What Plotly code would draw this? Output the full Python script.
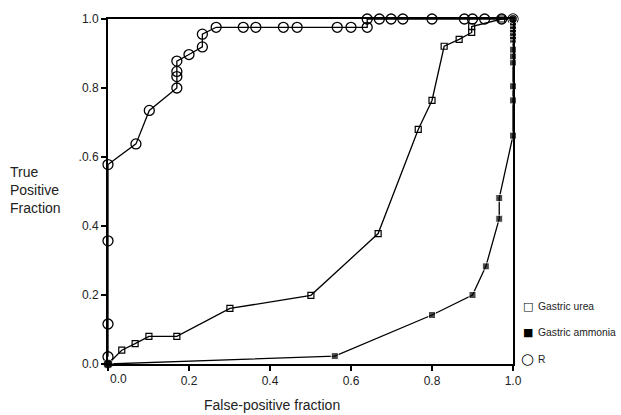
import plotly.graph_objects as go

# R (open circles)
r_x = [0.0, 0.0, 0.0, 0.0, 0.069, 0.102, 0.17, 0.17, 0.17, 0.17, 0.20, 0.233, 0.233,
       0.267, 0.334, 0.365, 0.433, 0.467, 0.566, 0.60, 0.64, 0.64, 0.67, 0.699, 0.728,
       0.80, 0.88, 0.90, 0.93, 0.972, 1.0]
r_y = [0.021, 0.116, 0.357, 0.578, 0.638, 0.735, 0.80, 0.833, 0.848, 0.878, 0.897, 0.919, 0.956,
       0.976, 0.976, 0.976, 0.976, 0.976, 0.976, 0.976, 0.976, 1.0, 1.0, 1.0, 1.0,
       1.0, 1.0, 1.0, 1.0, 1.0, 1.0]

# Gastric urea (open squares)
urea_x = [0.0, 0.034, 0.067, 0.101, 0.17, 0.301, 0.501, 0.667, 0.766, 0.80, 0.83, 0.867,
          0.898, 0.898, 0.972, 1.0]
urea_y = [0.0, 0.04, 0.059, 0.08, 0.08, 0.161, 0.199, 0.378, 0.68, 0.764, 0.921, 0.941,
          0.961, 0.978, 1.0, 1.0]

# Gastric ammonia (filled squares)
amm_x = [0.0, 0.56, 0.80, 0.90, 0.933, 0.966, 0.966, 1.0, 1.0, 1.0, 1.0, 1.0, 1.0,
         1.0, 1.0, 1.0, 1.0, 1.0, 1.0, 1.0]
amm_y = [0.0, 0.023, 0.142, 0.20, 0.283, 0.421, 0.481, 0.662, 0.764, 0.805, 0.874, 0.892,
         0.911, 0.94, 0.95, 0.96, 0.97, 0.98, 0.99, 1.0]

y_ticks = [0.0, 0.2, 0.4, 0.6, 0.8, 1.0]
y_ticktext = ["0.0", "0.2", "0.4", ".0.6", "0.8", "1.0"]
x_ticks = [0.0, 0.2, 0.4, 0.6, 0.8, 1.0]
x_ticktext = ["", "0.2", "0.4", "0.6", "0.8", "1.0"]

legend_labels = ["Gastric urea", "Gastric ammonia", "R"]
legend_symbols = ["\u25a1", "\u25a0", "\u25cb"]

FONT = "Liberation Sans, Arial, sans-serif"

fig = go.Figure()

fig.add_trace(go.Scatter(
    x=r_x, y=r_y, mode="lines+markers", cliponaxis=False, showlegend=False,
    line=dict(color="black", width=1.3),
    marker=dict(symbol="circle-open", size=10, color="black", line=dict(width=1.3)),
))
fig.add_trace(go.Scatter(
    x=urea_x, y=urea_y, mode="lines+markers", cliponaxis=False, showlegend=False,
    line=dict(color="black", width=1.3),
    marker=dict(symbol="square-open", size=6, color="black", line=dict(width=1.2)),
))
amm_sym = ["circle"] + ["square"] * (len(amm_x) - 2) + ["circle"]
amm_size = [10] + [7] * (len(amm_x) - 2) + [9]
fig.add_trace(go.Scatter(
    x=amm_x, y=amm_y, mode="lines+markers", cliponaxis=False, showlegend=False,
    line=dict(color="black", width=1.3),
    marker=dict(symbol=amm_sym, size=amm_size, color="black"),
))

fig.update_xaxes(
    range=[0, 1], tickvals=x_ticks, ticktext=x_ticktext,
    showline=True, linecolor="black", linewidth=2, mirror=True,
    ticks="outside", ticklen=5, tickwidth=2, tickcolor="black",
    showgrid=False, zeroline=False,
    tickfont=dict(family=FONT, size=12, color="#222"),
)
fig.update_yaxes(
    range=[0, 1], tickvals=y_ticks, ticktext=y_ticktext,
    showline=True, linecolor="black", linewidth=2, mirror=True,
    ticks="outside", ticklen=5, tickwidth=2, tickcolor="black",
    showgrid=False, zeroline=False,
    tickfont=dict(family=FONT, size=12, color="#222"),
)

annotations = [
    dict(text="0.0", xref="x", yref="paper", x=0.025, y=0, yshift=-6, yanchor="top",
         showarrow=False, font=dict(family=FONT, size=12, color="#222")),
    dict(text="True<br>Positive<br>Fraction", xref="paper", yref="paper",
         x=-0.247, y=0.585, xanchor="left", yanchor="top", align="left", showarrow=False,
         font=dict(family=FONT, size=14, color="#222")),
    dict(text="False-positive fraction", xref="paper", yref="paper",
         x=0.405, y=-0.118, xanchor="center", yanchor="middle", showarrow=False,
         font=dict(family=FONT, size=14, color="#222")),
]
legend_y = [0.166, 0.092, 0.014]
for sym, lab, ly in zip(legend_symbols, legend_labels, legend_y):
    annotations.append(dict(text=sym, xref="paper", yref="paper", x=1.037, y=ly,
                            xanchor="center", yanchor="middle", showarrow=False,
                            font=dict(family="DejaVu Sans", size=11 if sym != "\u25cb" else 15,
                                      color="black")))
    annotations.append(dict(text=lab, xref="paper", yref="paper", x=1.058, y=ly,
                            xanchor="left", yanchor="middle", showarrow=False,
                            font=dict(family=FONT, size=10.3, color="#222")))

fig.update_layout(
    width=621, height=415,
    margin=dict(l=108, r=108, t=14, b=51),
    plot_bgcolor="white", paper_bgcolor="white",
    showlegend=False,
    annotations=annotations,
)

fig.write_html("out.html", config={"displayModeBar": False},
               post_script="document.body.style.margin='0';")
